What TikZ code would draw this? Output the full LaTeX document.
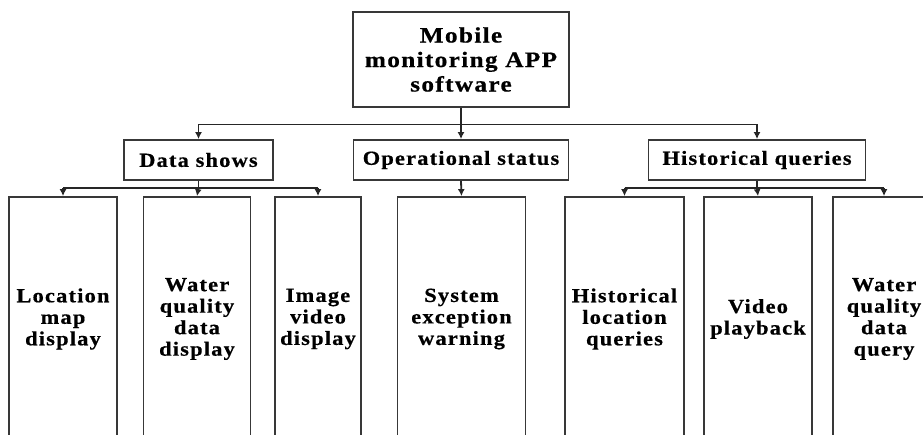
\documentclass[tikz,border=0pt]{standalone}
\usepackage{fontspec}
\newfontfamily\lblfont{Liberation Serif Bold}[FakeStretch=1.12,LetterSpace=6,FakeBold=0.6]
\newfontfamily\topfont{Liberation Serif Bold}[FakeStretch=1.15,LetterSpace=6,FakeBold=0.6]
\usetikzlibrary{arrows.meta}
\begin{document}
\begin{tikzpicture}[x=1pt,y=-1pt,
  box/.style={draw=black!78,line width=1.8pt,inner sep=0pt,align=center,
    font=\lblfont\fontsize{20}{21.5}\selectfont},
  topbox/.style={box,font=\topfont\fontsize{22}{24.5}\selectfont},
  leaf/.style={box,minimum height=244pt},
  conn/.style={draw=black!85,line width=1.8pt},
  arr/.style={conn,-{Latex[length=7pt,width=7pt]}}]
\useasboundingbox (0,0) rectangle (923,435);
\clip (0,0) rectangle (923,435);
\fill[white] (0,0) rectangle (923,435);
% top
\node[topbox,minimum width=216pt,minimum height=95pt] (top) at (461,59.5) {Mobile\\monitoring APP\\software};
% level 2
\node[box,minimum width=149pt,minimum height=40pt] (ds) at (198.5,160) {Data shows};
\node[box,minimum width=215pt,minimum height=40pt] (os) at (461,160) {Operational status};
\node[box,minimum width=217pt,minimum height=40pt] (hq) at (757,160) {Historical queries};
% leaves
\node[leaf,minimum width=108pt] (l1) at (63,319) {Location\\map\\display};
\node[leaf,minimum width=107pt] (l2) at (197,319) {Water\\quality\\data\\display};
\node[leaf,minimum width=86pt] (l3) at (318,319) {Image\\video\\display};
\node[leaf,minimum width=128pt] (l4) at (461.5,319) {System\\exception\\warning};
\node[leaf,minimum width=119pt] (l5) at (624.5,319) {Historical\\location\\queries};
\node[leaf,minimum width=108pt] (l6) at (758,319) {Video\\playback};
\node[leaf,minimum width=102pt] (l7) at (884,319) {Water\\quality\\data\\query};
% buses
\coordinate (b1) at (0,124.5);
\coordinate (b2) at (0,188);
\draw[conn] (top.south) -- (top.south |- b1);
\draw[conn] (ds.north |- b1) -- (hq.north |- b1);
\draw[arr] (ds.north |- b1) -- (ds.north);
\draw[arr] (os.north |- b1) -- (os.north);
\draw[arr] (hq.north |- b1) -- (hq.north);
% data shows children
\draw[conn] (ds.south) -- (ds.south |- b2);
\draw[conn] (l1.north |- b2) -- (l3.north |- b2);
\draw[arr] (l1.north |- b2) -- (l1.north);
\draw[arr] (ds.south |- b2) -- (l2.north);
\draw[arr] (l3.north |- b2) -- (l3.north);
% operational status child
\draw[arr] (os.south) -- (l4.north);
% historical children
\draw[conn] (hq.south) -- (hq.south |- b2);
\draw[conn] (l5.north |- b2) -- (l7.north |- b2);
\draw[arr] (l5.north |- b2) -- (l5.north);
\draw[arr] (hq.south |- b2) -- (l6.north);
\draw[arr] (l7.north |- b2) -- (l7.north);
\end{tikzpicture}
\end{document}
